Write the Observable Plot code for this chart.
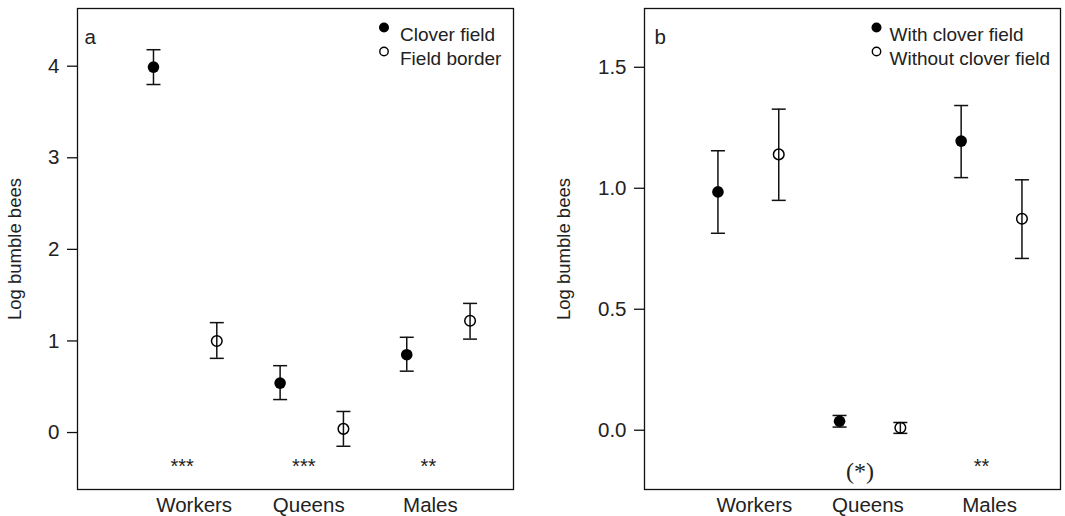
<!DOCTYPE html>
<html>
<head>
<meta charset="utf-8">
<script src="https://cdn.jsdelivr.net/npm/d3@7"></script>
<script src="https://cdn.jsdelivr.net/npm/@observablehq/plot@0.6"></script>
<style>
  html, body { margin: 0; padding: 0; background: white; }
  #wrap { display: flex; width: 1065px; height: 516px; }
</style>
</head>
<body>
<div id="wrap"></div>
<script>
// ---- Data ----
const categories = ["Workers", "Queens", "Males"];

// Panel a
const aSeries = ["Clover field", "Field border"];
const aClover = [3.99, 0.54, 0.85];
const aCloverLo = [3.80, 0.36, 0.67];
const aCloverHi = [4.18, 0.73, 1.04];
const aBorder = [1.00, 0.04, 1.22];
const aBorderLo = [0.81, -0.15, 1.02];
const aBorderHi = [1.20, 0.23, 1.41];
const aStars = ["***", "***", "**"];
const aTicks = [0, 1, 2, 3, 4];

// Panel b
const bSeries = ["With clover field", "Without clover field"];
const bWith = [0.985, 0.037, 1.195];
const bWithLo = [0.814, 0.013, 1.044];
const bWithHi = [1.155, 0.061, 1.342];
const bWithout = [1.14, 0.010, 0.874];
const bWithoutLo = [0.95, -0.013, 0.71];
const bWithoutHi = [1.327, 0.032, 1.035];
const bStars = ["", "(*)", "**"];
const bTicks = [0, 0.5, 1.0, 1.5];

// ---- helpers ----
const SANS = "'Liberation Sans', Arial, sans-serif";
const SERIF = "'Liberation Serif', 'Times New Roman', serif";
const capSymbol = {
  draw(context, size) {
    const h = Math.sqrt(size / Math.PI);
    context.moveTo(-h, 0);
    context.lineTo(h, 0);
  }
};

function rows(vals, lo, hi, series, offset) {
  return categories.map((c, i) => ({cat: c, x: i + 1 + offset, y: vals[i], lo: lo[i], hi: hi[i], series}));
}

function panel(opts) {
  const {letter, series, filled, open, width, marginLeft, marginRight, xDomain, yDomain, ticks, tickFormat,
         stars, starY, parenY, starDx, labelDx, legendDx, legendTextDx, letterDx, titleDx} = opts;
  const all = filled.concat(open);
  const starMarks = stars.map((s, i) => {
    if (!s) return null;
    const paren = s.startsWith("(");
    return Plot.text([s], {
      x: () => i + 1, y: () => (paren ? parenY : starY),
      text: d => d, dx: starDx[i],
      fontSize: paren ? 24 : 20,
      fontFamily: paren ? SERIF : SANS, fill: "#222"});
  }).filter(Boolean);
  const xLabels = categories.map((c, i) => Plot.axisX({ticks: [i + 1], tickFormat: d => categories[d - 1],
      tickSize: 0, tickPadding: 8, label: null, dx: labelDx[i]}));
  return Plot.plot({
    width, height: 516,
    marginLeft, marginRight, marginTop: 8, marginBottom: 27,
    style: {fontFamily: SANS, fontSize: "20.5px", color: "#222", background: "white", overflow: "visible"},
    x: {domain: xDomain},
    y: {domain: yDomain},
    marks: [
      Plot.frame({stroke: "#111", strokeWidth: 1.3}),
      Plot.axisY({ticks, tickFormat, tickSize: 10, tickPadding: 8, label: null, strokeWidth: 1.3, stroke: "#111"}),
      ...xLabels,
      // y-axis title
      Plot.text([0], {frameAnchor: "left", text: () => "Log bumble bees", rotate: -90, dx: titleDx,
                      textAnchor: "middle", fontSize: 18.5, fill: "#222"}),
      // panel letter
      Plot.text([0], {frameAnchor: "top-left", text: () => letter, dx: letterDx, dy: 21, textAnchor: "start", fill: "#222"}),
      // error bars
      Plot.ruleX(all, {x: "x", y1: "lo", y2: "hi", stroke: "#111", strokeWidth: 1.5}),
      Plot.dot(all, {x: "x", y: "lo", symbol: capSymbol, r: 7, stroke: "#111", strokeWidth: 1.5, fill: "none"}),
      Plot.dot(all, {x: "x", y: "hi", symbol: capSymbol, r: 7, stroke: "#111", strokeWidth: 1.5, fill: "none"}),
      // points
      Plot.dot(filled, {x: "x", y: "y", r: 5.8, fill: "#000", stroke: "none"}),
      Plot.dot(open, {x: "x", y: "y", r: 5.3, fill: "none", stroke: "#000", strokeWidth: 1.5}),
      // significance
      ...starMarks,
      // legend
      Plot.dot([0], {frameAnchor: "top-left", dx: legendDx, dy: 19, r: 5, fill: "#000"}),
      Plot.dot([0], {frameAnchor: "top-left", dx: legendDx, dy: 43, r: 4.2, fill: "none", stroke: "#000", strokeWidth: 1.4}),
      Plot.text([0], {frameAnchor: "top-left", text: () => series[0], dx: legendTextDx, dy: 19, textAnchor: "start", fontSize: 19, fill: "#222"}),
      Plot.text([0], {frameAnchor: "top-left", text: () => series[1], dx: legendTextDx, dy: 43, textAnchor: "start", fontSize: 19, fill: "#222"})
    ]
  });
}

const off = 0.25;
const plotA = panel({
  letter: "a", series: aSeries,
  filled: rows(aClover, aCloverLo, aCloverHi, aSeries[0], -off),
  open: rows(aBorder, aBorderLo, aBorderHi, aSeries[1], off),
  width: 532, marginLeft: 77, marginRight: 19,
  xDomain: [0.15, 3.593], yDomain: [-0.622, 4.63],
  ticks: aTicks, tickFormat: d3.format("d"),
  stars: aStars, starY: -0.37, parenY: -0.37, starDx: [-3, -8, -10], labelDx: [9, -3, -8],
  legendDx: 306.5, legendTextDx: 322.5, letterDx: 7, titleDx: -62
});
const plotB = panel({
  letter: "b", series: bSeries,
  filled: rows(bWith, bWithLo, bWithHi, bSeries[0], -off),
  open: rows(bWithout, bWithoutLo, bWithoutHi, bSeries[1], off),
  width: 533, marginLeft: 112, marginRight: 5,
  xDomain: [0.146, 3.567], yDomain: [-0.245, 1.743],
  ticks: bTicks, tickFormat: d3.format(".1f"),
  stars: bStars, starY: -0.152, parenY: -0.168, starDx: [0, -10, -10], labelDx: [6, -2, -2],
  legendDx: 232, legendTextDx: 245, letterDx: 10, titleDx: -80
});
document.getElementById("wrap").append(plotA, plotB);
</script>
</body>
</html>
